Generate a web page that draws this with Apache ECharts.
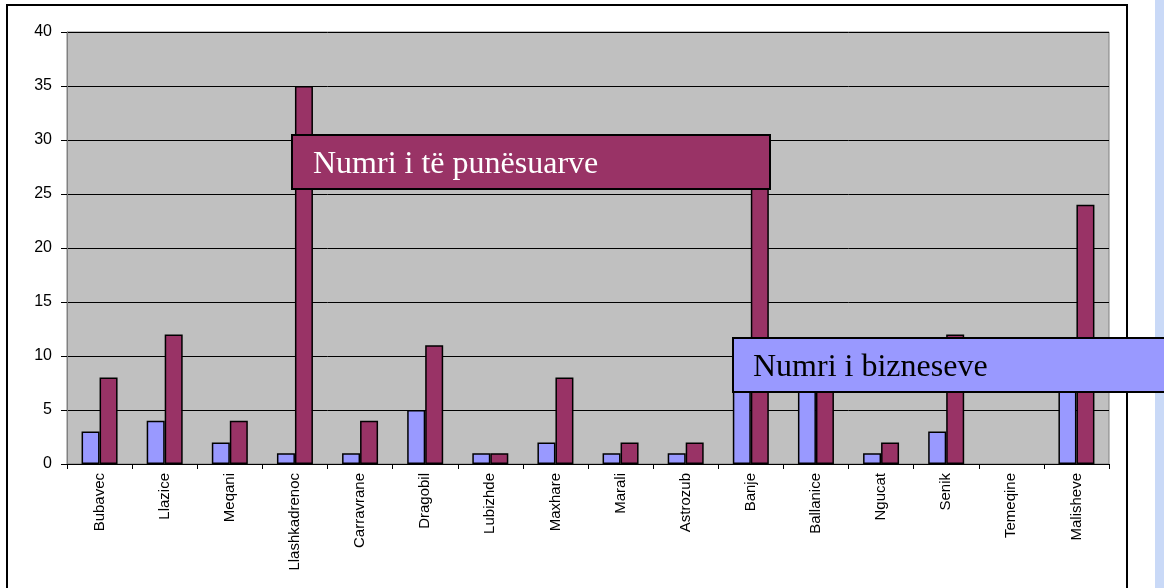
<!DOCTYPE html>
<html>
<head>
<meta charset="utf-8">
<script src="https://cdn.jsdelivr.net/npm/echarts@6/dist/echarts.min.js"></script>
<style>
  html, body { margin: 0; padding: 0; background: #fff; }
  #chart { width: 1164px; height: 588px; }
</style>
</head>
<body>
<div id="chart"></div>
<script>
// villages
var categories = ['Bubavec', 'Llazice', 'Meqani', 'Llashkadrenoc', 'Carravrane', 'Dragobil',
  'Lubizhde', 'Maxhare', 'Marali', 'Astrozub', 'Banje', 'Ballanice', 'Ngucat', 'Senik',
  'Temeqine', 'Malisheve'];
// blue bars (hidden ones estimated)
var bizneseve = [3, 4, 2, 1, 1, 5, 1, 2, 1, 1, 10, 8, 1, 3, 0, 9];
// purple bars
var punesuarve = [8, 12, 4, 35, 4, 11, 1, 8, 2, 2, 29, 10, 2, 12, 0, 24];
var yTicks = [0, 40, 5];

// zero bars get no outline so nothing shows for them
function toItems(arr) {
  return arr.map(function (v) {
    return v === 0 ? { value: v, itemStyle: { borderWidth: 0 } } : v;
  });
}

var chart = echarts.init(document.getElementById('chart'));

var option = {
  animation: false,
  backgroundColor: '#fff',
  grid: {
    left: 67,
    top: 32,
    right: 55,
    bottom: 124,
    show: true,
    backgroundColor: '#C0C0C0',
    borderColor: '#808080',
    borderWidth: 1
  },
  xAxis: {
    type: 'category',
    data: categories,
    axisLine: { lineStyle: { color: '#000', width: 1 } },
    axisTick: { show: true, length: 5, lineStyle: { color: '#000' } },
    axisLabel: {
      rotate: 90,
      interval: 0,
      margin: 9,
      color: '#000',
      fontFamily: 'Liberation Sans',
      fontSize: 15
    }
  },
  yAxis: {
    type: 'value',
    min: yTicks[0],
    max: yTicks[1],
    interval: yTicks[2],
    axisLine: { show: true, lineStyle: { color: '#808080' } },
    axisTick: { show: true, length: 6, lineStyle: { color: '#000' } },
    axisLabel: {
      color: '#000',
      fontFamily: 'Liberation Sans',
      fontSize: 16,
      margin: 15
    },
    splitLine: { lineStyle: { color: '#000', width: 1 } }
  },
  series: [
    {
      name: 'Numri i bizneseve',
      type: 'bar',
      data: toItems(bizneseve),
      barWidth: 18,
      barGap: '0%',
      itemStyle: { color: '#9999FF', borderColor: '#000', borderWidth: 1.5 }
    },
    {
      name: 'Numri i të punësuarve',
      type: 'bar',
      data: toItems(punesuarve),
      barWidth: 18,
      itemStyle: { color: '#993366', borderColor: '#000', borderWidth: 1.5 }
    }
  ],
  graphic: [
    // outer frame
    {
      type: 'rect', z: 0, silent: true,
      shape: { x: 7, y: 5, width: 1120, height: 600 },
      style: { fill: 'none', stroke: '#000', lineWidth: 2 }
    },
    // light strip on the right edge
    {
      type: 'rect', z: 0, silent: true,
      shape: { x: 1155, y: 0, width: 9, height: 588 },
      style: { fill: '#C9D9F7' }
    },
    // series labels drawn as boxes over the plot
    {
      type: 'rect', z: 100,
      shape: { x: 292, y: 135, width: 478, height: 54 },
      style: { fill: '#993366', stroke: '#000', lineWidth: 2 }
    },
    {
      type: 'text', z: 101,
      style: {
        x: 313, y: 165, text: 'Numri i të punësuarve',
        fill: '#fff', font: '32px "Liberation Serif"', textVerticalAlign: 'middle'
      }
    },
    {
      type: 'rect', z: 100,
      shape: { x: 733, y: 338, width: 440, height: 54 },
      style: { fill: '#9999FF', stroke: '#000', lineWidth: 2 }
    },
    {
      type: 'text', z: 101,
      style: {
        x: 753, y: 368, text: 'Numri i bizneseve',
        fill: '#000', font: '32px "Liberation Serif"', textVerticalAlign: 'middle'
      }
    }
  ]
};

chart.setOption(option);
</script>
</body>
</html>
